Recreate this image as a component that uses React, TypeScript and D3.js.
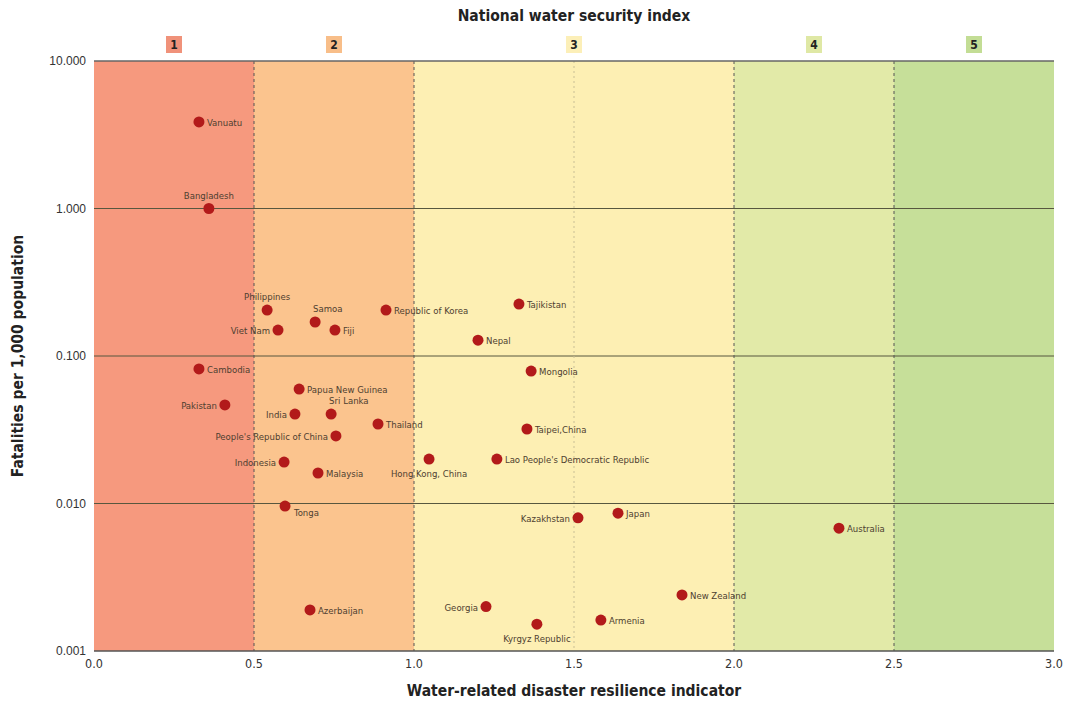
import React from "react";
import * as d3 from "d3";

const countries = [
  "Vanuatu", "Bangladesh", "Philippines", "Samoa", "Republic of Korea", "Viet Nam", "Fiji",
  "Tajikistan", "Nepal", "Cambodia", "Mongolia", "Papua New Guinea", "Pakistan", "India",
  "Sri Lanka", "Thailand", "Taipei,China", "People's Republic of China", "Indonesia",
  "Hong Kong, China", "Lao People's Democratic Republic", "Malaysia", "Tonga", "Kazakhstan",
  "Japan", "Australia", "New Zealand", "Georgia", "Azerbaijan", "Armenia", "Kyrgyz Republic",
];
const resilience = [
  0.328, 0.359, 0.541, 0.691, 0.9125, 0.575, 0.753,
  1.328, 1.2, 0.328, 1.366, 0.641, 0.409, 0.628,
  0.741, 0.8875, 1.353, 0.756, 0.594,
  1.047, 1.259, 0.7, 0.597, 1.5125,
  1.6375, 2.328, 1.8375, 1.225, 0.675, 1.584, 1.384,
];
const fatalities = [
  3.86, 1.0, 0.205, 0.17, 0.205, 0.15, 0.15,
  0.225, 0.128, 0.0817, 0.0791, 0.0597, 0.0466, 0.0404,
  0.0404, 0.0346, 0.032, 0.0287, 0.0191,
  0.02, 0.02, 0.0161, 0.0096, 0.008,
  0.0086, 0.0068, 0.0024, 0.002, 0.0019, 0.00162, 0.00152,
];
const labelSides = [
  "r", "t", "t", "tr", "r", "l", "r",
  "r", "r", "r", "r", "r", "l", "l",
  "tr", "r", "r", "l", "l",
  "b", "r", "r", "br", "l",
  "r", "r", "r", "l", "r", "r", "b",
];

const bandLabels = ["1", "2", "3", "4", "5"];
const bandStarts = [0, 0.5, 1.0, 2.0, 2.5];
const bandEnds = [0.5, 1.0, 2.0, 2.5, 3.0];
const bandCenters = [0.25, 0.75, 1.5, 2.25, 2.75];
const bandColors = ["#f6997e", "#fbc48e", "#fdefb3", "#e2eaa8", "#c6df99"];
const bandBoxColors = ["#f0927a", "#f8be89", "#fcefb8", "#dfe8a5", "#c3dd95"];

const xTicks = [0, 0.5, 1.0, 1.5, 2.0, 2.5, 3.0];
const yTicks = [0.001, 0.01, 0.1, 1, 10];
const dashedX = [0.5, 1.0, 2.0, 2.5];
const lightDashedX = [1.5];

const W = 1069, H = 706;
const M = { left: 94, right: 1054, top: 61, bottom: 651 };
const narrow = "'Liberation Sans Narrow', 'DejaVu Sans Condensed', Arial, sans-serif";

export default function App() {
  const x = d3.scaleLinear().domain([0, 3]).range([M.left, M.right]);
  const y = d3.scaleLog().domain([0.001, 10]).range([M.bottom, M.top]);
  const r = 5.5;

  return (
    <svg width={W} height={H} style={{ position: "absolute", left: 0, top: 0, background: "#fff" }}>
      {bandStarts.map((s, i) => (
        <rect key={"b" + i} x={x(s)} y={M.top} width={x(bandEnds[i]) - x(s)} height={M.bottom - M.top} fill={bandColors[i]} />
      ))}
      {yTicks.filter(t => t > 0.001 && t < 10).map(t => (
        <line key={"g" + t} x1={M.left} x2={M.right} y1={y(t)} y2={y(t)} stroke="#57573f" strokeWidth={1} />
      ))}
      {dashedX.map(v => (
        <line key={"d" + v} x1={x(v)} x2={x(v)} y1={M.top} y2={M.bottom} stroke="#555" strokeWidth={1} strokeDasharray="3,3" />
      ))}
      {lightDashedX.map(v => (
        <line key={"ld" + v} x1={x(v)} x2={x(v)} y1={M.top} y2={M.bottom} stroke="#c9bf95" strokeWidth={1} strokeDasharray="2,3" />
      ))}
      <line x1={M.left} x2={M.right} y1={M.top} y2={M.top} stroke="#666" strokeWidth={1.5} />
      <line x1={M.left} x2={M.right} y1={M.bottom} y2={M.bottom} stroke="#555" strokeWidth={1.5} />

      {yTicks.map(t => (
        <text key={"yt" + t} x={M.left - 8} y={y(t) + 4} textAnchor="end" fontSize={12} fill="#333" fontFamily="'Liberation Sans', Arial, sans-serif">
          {d3.format(".3f")(t)}
        </text>
      ))}
      {xTicks.map(t => (
        <text key={"xt" + t} x={x(t)} y={M.bottom + 17} textAnchor="middle" fontSize={12.5} fill="#333" fontFamily={narrow}>
          {d3.format(".1f")(t)}
        </text>
      ))}

      <text x={(M.left + M.right) / 2} y={21} textAnchor="middle" fontSize={15.5} fontWeight="bold" fill="#222" fontFamily={narrow}>
        National water security index
      </text>
      {bandCenters.map((c, i) => (
        <g key={"bl" + i}>
          <rect x={x(c) - 8} y={36} width={16} height={17} fill={bandBoxColors[i]} />
          <text x={x(c)} y={49} textAnchor="middle" fontSize={12} fontWeight="bold" fill="#222" fontFamily={narrow}>{bandLabels[i]}</text>
        </g>
      ))}

      <text x={(M.left + M.right) / 2} y={696} textAnchor="middle" fontSize={15.5} fontWeight="bold" fill="#222" fontFamily={narrow}>
        Water-related disaster resilience indicator
      </text>
      <text transform={`translate(23, ${(M.top + M.bottom) / 2}) rotate(-90)`} textAnchor="middle" fontSize={15.5} fontWeight="bold" fill="#222" fontFamily={narrow}>
        Fatalities per 1,000 population
      </text>

      {countries.map((name, i) => {
        const cx = x(resilience[i]);
        const cy = y(fatalities[i]);
        const side = labelSides[i];
        let tx = cx + 8, ty = cy + 4, anchor = "start";
        if (side === "l") { tx = cx - 8; anchor = "end"; }
        else if (side === "t") { tx = cx; ty = cy - 10; anchor = "middle"; }
        else if (side === "tr") { tx = cx - 2; ty = cy - 10; anchor = "start"; }
        else if (side === "b") { tx = cx; ty = cy + 18; anchor = "middle"; }
        else if (side === "br") { tx = cx + 9; ty = cy + 10; anchor = "start"; }
        return (
          <g key={name}>
            <circle cx={cx} cy={cy} r={r} fill="#b21a1a" />
            <text x={tx} y={ty} textAnchor={anchor} fontSize={9.5} fill="#4e4030" fontFamily={narrow}>{name}</text>
          </g>
        );
      })}
    </svg>
  );
}
